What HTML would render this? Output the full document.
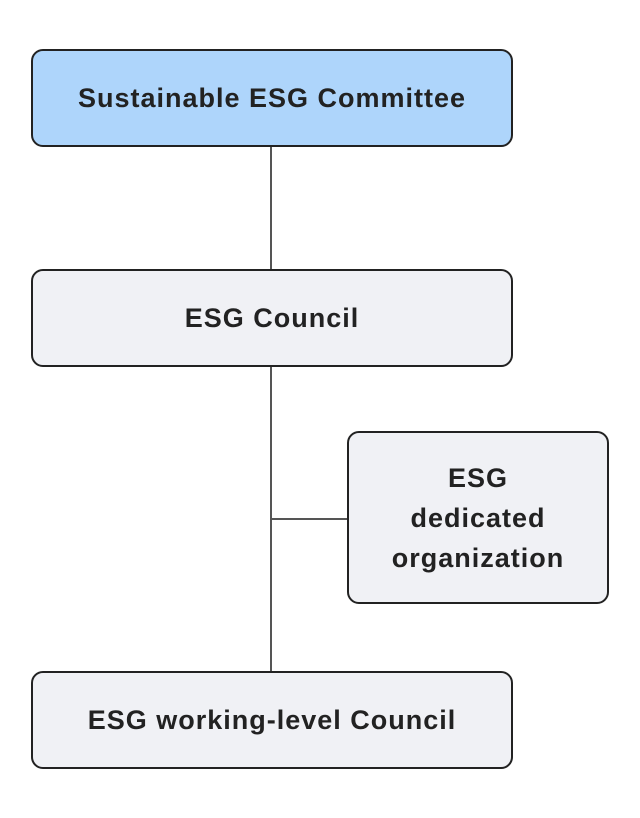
<!DOCTYPE html>
<html><head><style>
body{margin:0;width:640px;height:818px;background:#fff;position:relative;font-family:"Liberation Sans",sans-serif;}
.b{position:absolute;box-sizing:border-box;border:2px solid #222;border-radius:12px;background:#f0f1f5;display:flex;align-items:center;justify-content:center;text-align:center;font-weight:bold;font-size:27px;letter-spacing:1px;color:#222;line-height:40px;}
.l{position:absolute;background:#555;}
</style></head><body>
<div class="l" style="left:270px;top:147px;width:1.5px;height:524px"></div>
<div class="l" style="left:271px;top:518px;width:76px;height:1.5px"></div>
<div class="b" style="left:31px;top:49px;width:482px;height:98px;background:#aed5fb">Sustainable ESG Committee</div>
<div class="b" style="left:31px;top:269px;width:482px;height:98px">ESG Council</div>
<div class="b" style="left:347px;top:431px;width:262px;height:173px">ESG<br>dedicated<br>organization</div>
<div class="b" style="left:31px;top:671px;width:482px;height:98px">ESG working-level Council</div>
</body></html>
